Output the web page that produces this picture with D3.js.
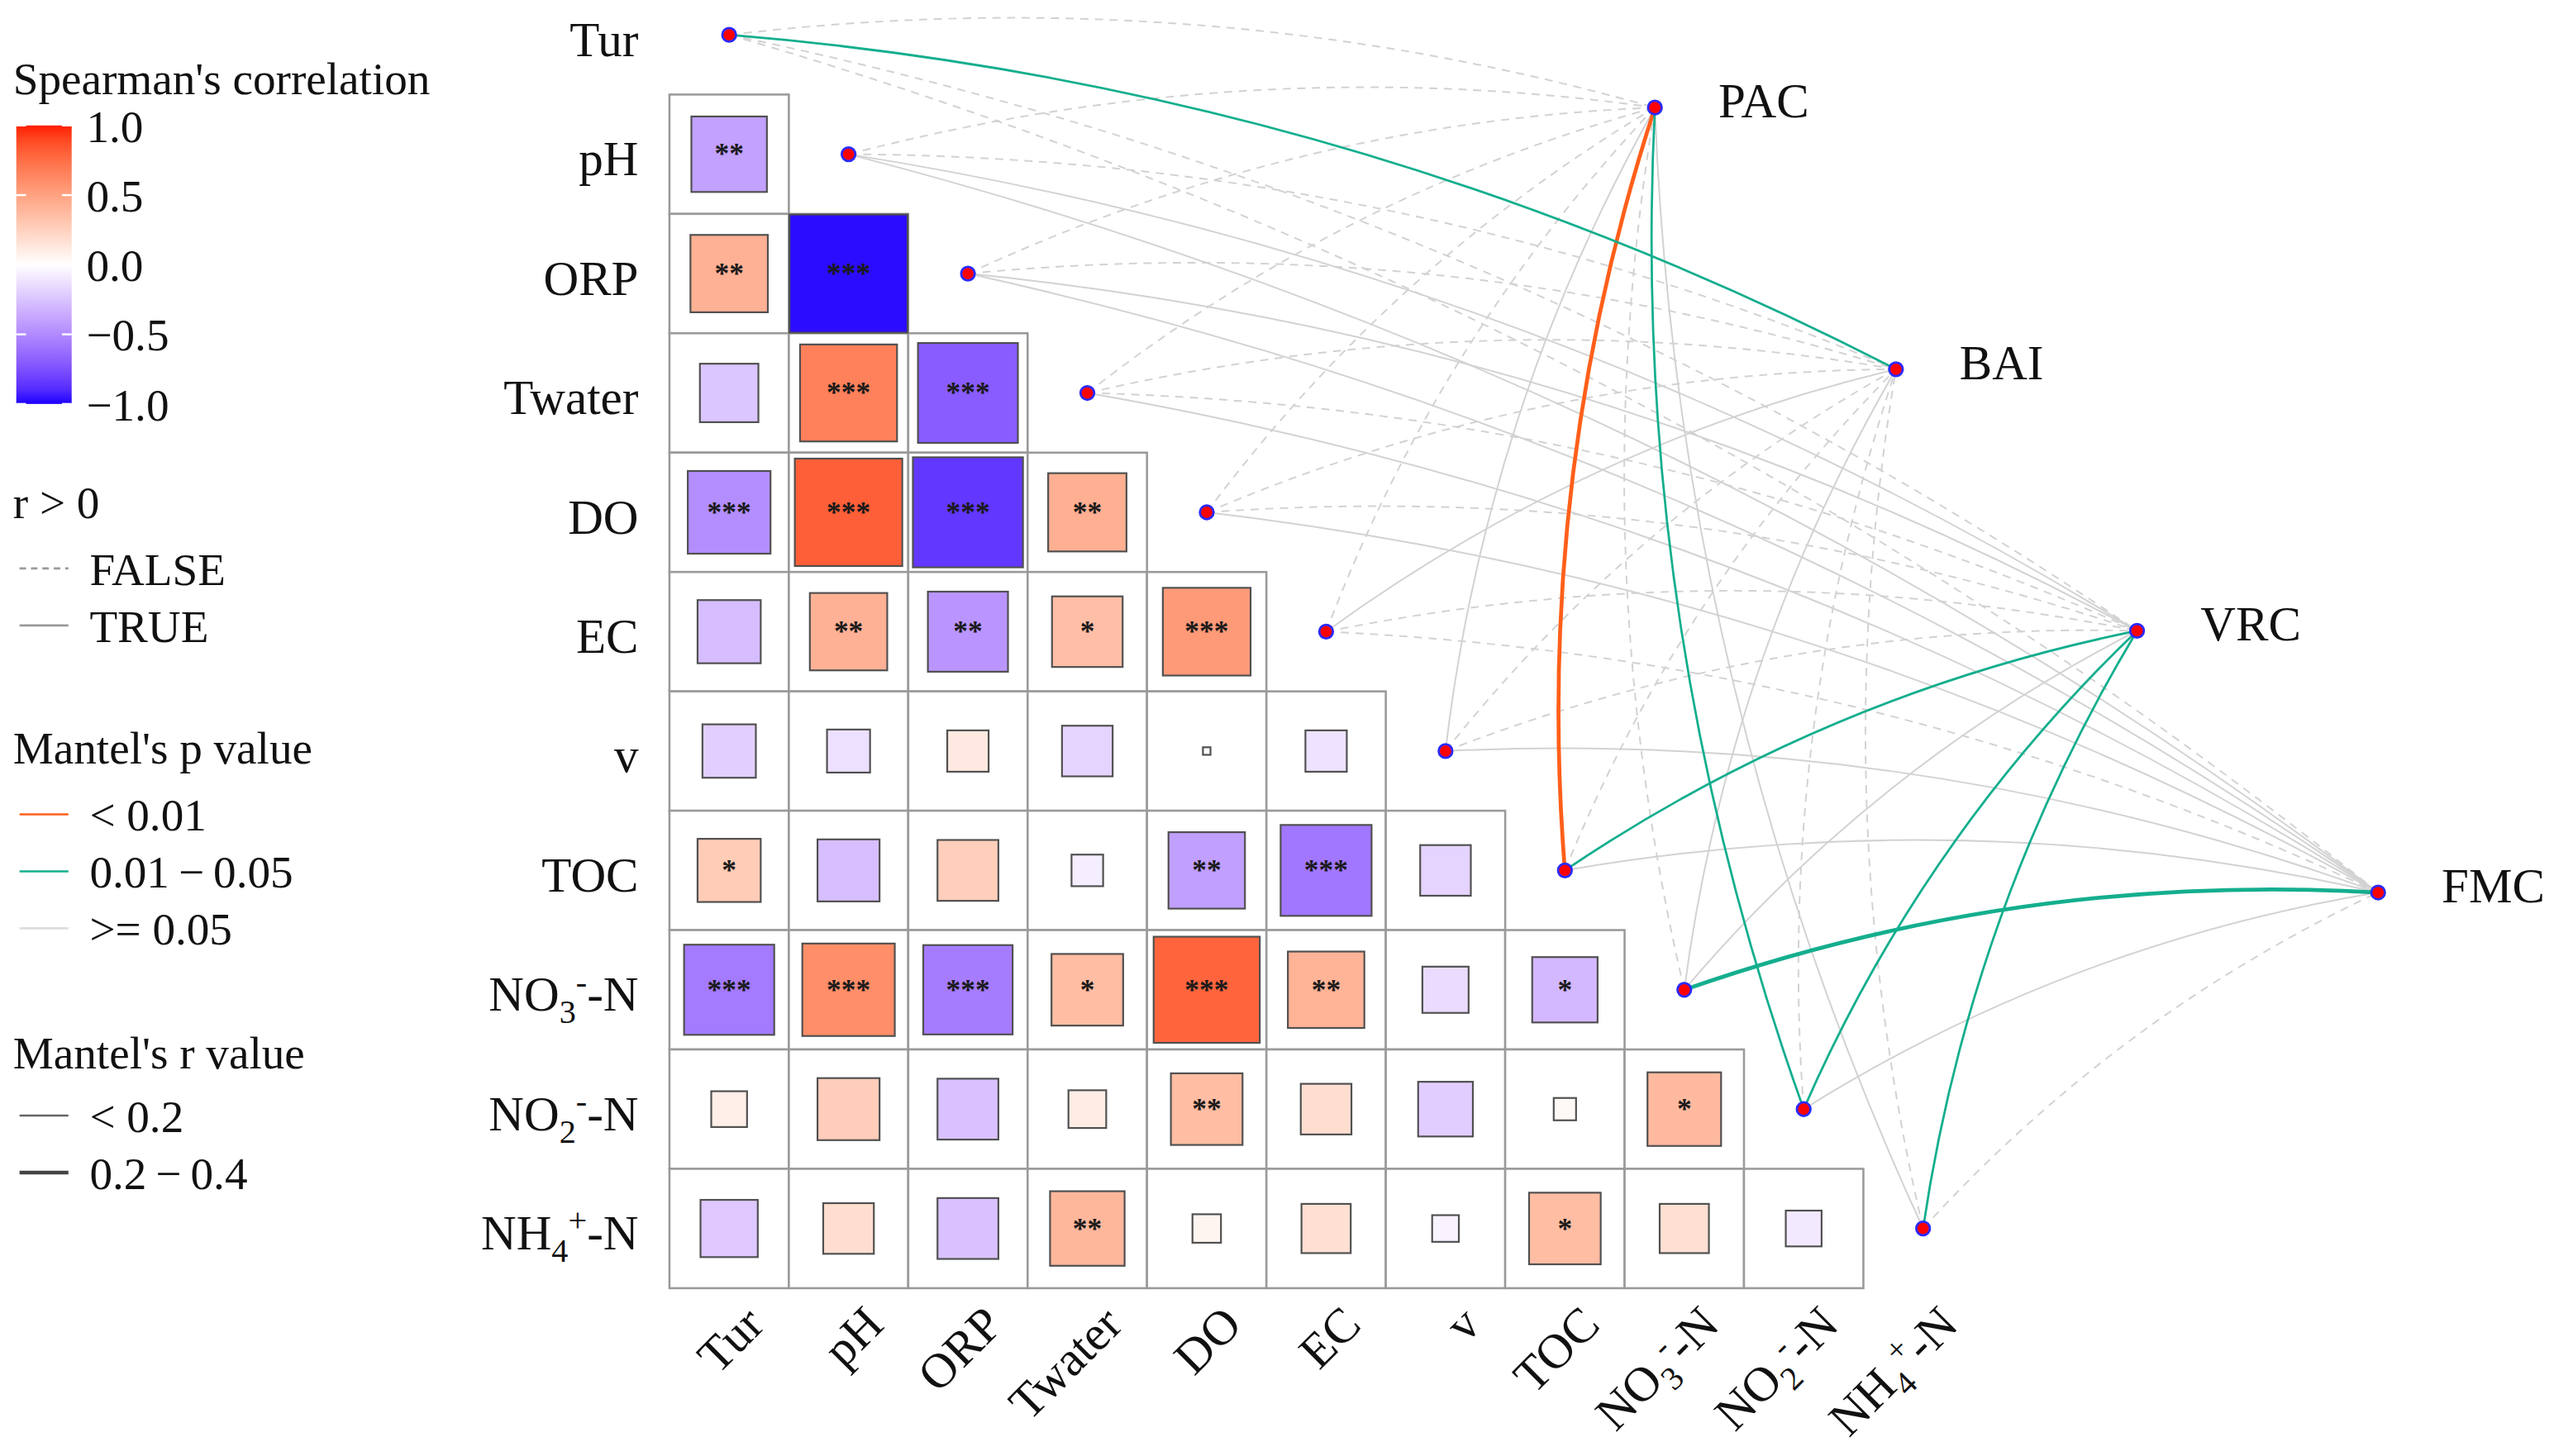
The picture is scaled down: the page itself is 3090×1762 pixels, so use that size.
<!DOCTYPE html>
<html>
<head>
<meta charset="utf-8">
<script src="https://cdn.jsdelivr.net/npm/d3@7"></script>
<style>
  body { margin: 0; background: #fff; }
  text { font-family: "Liberation Serif", "Times New Roman", serif; fill: #111; }
</style>
</head>
<body>
<div id="chart"></div>
<script>
// environmental variables (matrix rows / columns)
var envKeys = ["Tur", "pH", "ORP", "Twater", "DO", "EC", "v", "TOC", "NO3", "NO2", "NH4"];

// Spearman correlations, lower triangle (row i has i values: columns Tur..)
var corrRows = [
  [],
  [-0.40],
  [0.42, -0.98],
  [-0.24, 0.66, -0.70],
  [-0.48, 0.81, -0.85, 0.43],
  [-0.28, 0.42, -0.45, 0.35, 0.54],
  [-0.20, -0.13, 0.12, -0.18, 0.004, -0.12],
  [0.28, -0.27, 0.26, -0.07, -0.41, -0.58, -0.18],
  [-0.57, 0.60, -0.56, 0.36, 0.79, 0.41, -0.15, -0.30],
  [0.09, 0.27, -0.26, 0.10, 0.36, 0.18, -0.21, 0.035, 0.38],
  [-0.23, 0.18, -0.26, 0.39, 0.057, 0.17, -0.05, 0.36, 0.17, -0.09]
];

var starRows = [
  [],
  ["**"],
  ["**", "***"],
  ["", "***", "***"],
  ["***", "***", "***", "**"],
  ["", "**", "**", "*", "***"],
  ["", "", "", "", "", ""],
  ["*", "", "", "", "**", "***", ""],
  ["***", "***", "***", "*", "***", "**", "", "*"],
  ["", "", "", "", "**", "", "", "", "*"],
  ["", "", "", "**", "", "", "", "*", "", ""]
];

// Mantel test: one row per species group, one value per env variable
var specNames = ["PAC", "BAI", "VRC", "FMC"];
var mantelR = [
  [-0.05, -0.08, -0.06, -0.04, -0.07, -0.03, 0.05, 0.28, -0.02, 0.15, 0.06],
  [0.18, -0.05, -0.06, -0.04, -0.05, 0.06, -0.03, -0.02, 0.04, -0.05, -0.03],
  [-0.06, 0.07, 0.05, -0.03, -0.02, -0.04, -0.05, 0.17, 0.08, 0.16, 0.15],
  [-0.04, 0.09, 0.06, 0.05, 0.07, -0.03, 0.04, 0.08, 0.25, 0.06, -0.05]
];
var mantelP = [
  [0.60, 0.80, 0.70, 0.60, 0.80, 0.60, 0.30, 0.004, 0.50, 0.03, 0.25],
  [0.02, 0.70, 0.70, 0.60, 0.60, 0.30, 0.50, 0.50, 0.30, 0.60, 0.50],
  [0.70, 0.20, 0.25, 0.50, 0.50, 0.60, 0.60, 0.02, 0.15, 0.03, 0.04],
  [0.60, 0.12, 0.20, 0.30, 0.20, 0.50, 0.35, 0.15, 0.02, 0.25, 0.60]
];

var colorBreaks = [1.0, 0.5, 0.0, -0.5, -1.0];

// label pieces: [text, kind]
var envLabels = {
  Tur: [["Tur"]], pH: [["pH"]], ORP: [["ORP"]], Twater: [["Twater"]], DO: [["DO"]],
  EC: [["EC"]], v: [["v"]], TOC: [["TOC"]],
  NO3: [["NO"], ["3", "sub"], ["-", "sup"], ["-N"]],
  NO2: [["NO"], ["2", "sub"], ["-", "sup"], ["-N"]],
  NH4: [["NH"], ["4", "sub"], ["+", "sup"], ["-N"]]
};

var W = 1568, H = 894;
var svg = d3.select("#chart").append("svg")
  .attr("width", 3090)
  .attr("height", 1762)
  .attr("viewBox", "0 0 " + W + " " + H);

var cell = 73.3;
var gridLeft = 411, gridTop = 58;
var x = d3.scaleBand().domain(envKeys).range([gridLeft, gridLeft + 11 * cell]);
var y = d3.scaleBand().domain(envKeys).range([gridTop - cell, gridTop + 10 * cell]);
var color = d3.scaleLinear().domain([-1, 0, 1])
  .range(["#1c00ff", "#ffffff", "#ff1e00"])
  .interpolate(d3.interpolateLab);

var specX = d3.scalePoint().domain(specNames).range([1016, 1460]);
var specY = d3.scalePoint().domain(specNames).range([66, 548]);

function writeLabel(t, key, fs) {
  envLabels[key].forEach(function(p) {
    var ts = t.append("tspan").text(p[0]);
    if (p[1] === "sub") ts.attr("font-size", fs * 0.68).attr("dy", fs * 0.25);
    else if (p[1] === "sup") ts.attr("font-size", fs * 0.68).attr("dy", -fs * 0.62);
    else if (t.selectAll("tspan").size() > 1) ts.attr("dy", fs * 0.37);
  });
}

// ---- correlation cells ----
var cells = [];
corrRows.forEach(function(row, i) {
  row.forEach(function(r, j) {
    cells.push({ row: envKeys[i], col: envKeys[j], r: r, star: starRows[i][j] });
  });
});

var grid = svg.append("g");
grid.selectAll("rect.bg").data(cells).enter().append("rect")
  .attr("class", "bg")
  .attr("x", d => x(d.col))
  .attr("y", d => y(d.row))
  .attr("width", cell)
  .attr("height", cell)
  .attr("fill", "#fff")
  .attr("stroke", "#9a9a9a")
  .attr("stroke-width", 1.3);

grid.selectAll("rect.sq").data(cells).enter().append("rect")
  .attr("class", "sq")
  .attr("x", d => x(d.col) + cell / 2 - cell * Math.sqrt(Math.abs(d.r)) / 2)
  .attr("y", d => y(d.row) + cell / 2 - cell * Math.sqrt(Math.abs(d.r)) / 2)
  .attr("width", d => cell * Math.sqrt(Math.abs(d.r)))
  .attr("height", d => cell * Math.sqrt(Math.abs(d.r)))
  .attr("fill", d => color(d.r))
  .attr("stroke", "#505050")
  .attr("stroke-width", 1.1);

grid.selectAll("text.star").data(cells.filter(d => d.star)).enter().append("text")
  .attr("class", "star")
  .attr("x", d => x(d.col) + cell / 2)
  .attr("y", d => y(d.row) + cell / 2 + 6)
  .attr("text-anchor", "middle")
  .attr("font-size", 18)
  .attr("font-weight", "bold")
  .style("fill", "#1a1a1a")
  .text(d => d.star);

// ---- axis labels ----
var fsAxis = 30;
envKeys.forEach(function(k) {
  var t = svg.append("text")
    .attr("x", 392)
    .attr("y", y(k) + cell / 2 + 13)
    .attr("text-anchor", "end")
    .attr("font-size", fsAxis);
  writeLabel(t, k, fsAxis);

  var ax = x(k) + cell / 2 + 8, ay = 800;
  var tx = svg.append("text")
    .attr("transform", "translate(" + ax + "," + ay + ") rotate(-45)")
    .attr("x", 0)
    .attr("y", fsAxis * 0.7)
    .attr("text-anchor", "end")
    .attr("font-size", fsAxis);
  writeLabel(tx, k, fsAxis);
});

// ---- Mantel links ----
var links = [];
specNames.forEach(function(s, i) {
  envKeys.forEach(function(e, j) {
    links.push({ spec: s, env: e, r: mantelR[i][j], p: mantelP[i][j] });
  });
});
links.sort((a, b) => (a.p < 0.05) - (b.p < 0.05));

function linkPath(d) {
  var x1 = x(d.env) + cell / 2, y1 = y(d.env) + cell / 2;
  var x2 = specX(d.spec), y2 = specY(d.spec);
  var dx = x2 - x1, dy = y2 - y1;
  var k = 0.1;
  var cx = (x1 + x2) / 2 + dy * k, cy = (y1 + y2) / 2 - dx * k;
  return "M" + x1 + "," + y1 + " Q" + cx + "," + cy + " " + x2 + "," + y2;
}
function pColor(p) { return p < 0.01 ? "#ff5f1a" : p < 0.05 ? "#14ae8e" : "#d2d2d2"; }
function rWidth(d) { return d.p >= 0.05 ? 1.0 : (Math.abs(d.r) >= 0.2 ? 2.4 : 1.4); }

svg.append("g").selectAll("path").data(links).enter().append("path")
  .attr("d", linkPath)
  .attr("fill", "none")
  .attr("stroke", d => pColor(d.p))
  .attr("stroke-width", rWidth)
  .attr("stroke-dasharray", d => d.r > 0 ? null : "5,4");

// nodes
var nodes = svg.append("g");
nodes.selectAll("circle.env").data(envKeys).enter().append("circle")
  .attr("cx", d => x(d) + cell / 2)
  .attr("cy", d => y(d) + cell / 2)
  .attr("r", 4.2)
  .attr("fill", "#ff0000")
  .attr("stroke", "#2a2aff")
  .attr("stroke-width", 1.4);
nodes.selectAll("circle.spec").data(specNames).enter().append("circle")
  .attr("cx", d => specX(d))
  .attr("cy", d => specY(d))
  .attr("r", 4.2)
  .attr("fill", "#ff0000")
  .attr("stroke", "#2a2aff")
  .attr("stroke-width", 1.4);
nodes.selectAll("text.spec").data(specNames).enter().append("text")
  .attr("x", d => specX(d) + 39)
  .attr("y", d => specY(d) + 6)
  .attr("font-size", fsAxis)
  .text(d => d);

// ---- legend ----
var fsLeg = 28;
var leg = svg.append("g");
leg.append("text").attr("x", 8).attr("y", 58).attr("font-size", fsLeg).text("Spearman's correlation");

var barY = d3.scaleLinear().domain([1, -1]).range([77, 248]);
var grad = svg.append("defs").append("linearGradient")
  .attr("id", "cbar").attr("x1", 0).attr("y1", 0).attr("x2", 0).attr("y2", 1);
d3.range(0, 21).forEach(function(i) {
  var v = 1 - i / 10;
  grad.append("stop").attr("offset", (i / 20 * 100) + "%").attr("stop-color", color(v));
});
leg.append("rect")
  .attr("x", 10).attr("y", barY(1))
  .attr("width", 34).attr("height", barY(-1) - barY(1))
  .attr("fill", "url(#cbar)");
colorBreaks.forEach(function(b) {
  leg.append("line").attr("x1", 10).attr("x2", 16).attr("y1", barY(b)).attr("y2", barY(b))
    .attr("stroke", "#fff").attr("stroke-width", 1.2);
  leg.append("line").attr("x1", 38).attr("x2", 44).attr("y1", barY(b)).attr("y2", barY(b))
    .attr("stroke", "#fff").attr("stroke-width", 1.2);
  leg.append("text").attr("x", 53).attr("y", barY(b) + 10).attr("font-size", fsLeg)
    .text(d3.format(".1f")(b).replace("-", "\u2212"));
});

function legendLine(yy, stroke, width, dash, label) {
  leg.append("line").attr("x1", 12).attr("x2", 42).attr("y1", yy).attr("y2", yy)
    .attr("stroke", stroke).attr("stroke-width", width).attr("stroke-dasharray", dash);
  leg.append("text").attr("x", 55).attr("y", yy + 10).attr("font-size", fsLeg).text(label);
}

leg.append("text").attr("x", 8).attr("y", 318).attr("font-size", fsLeg).text("r > 0");
legendLine(349, "#9a9a9a", 1.3, "4,3", "FALSE");
legendLine(384, "#9a9a9a", 1.3, null, "TRUE");

leg.append("text").attr("x", 8).attr("y", 469).attr("font-size", fsLeg).text("Mantel's p value");
legendLine(500, "#ff5f1a", 1.3, null, "< 0.01");
legendLine(535, "#14ae8e", 1.3, null, "0.01\u2009\u2212\u20090.05");
legendLine(570, "#dedede", 1.3, null, ">= 0.05");

leg.append("text").attr("x", 8).attr("y", 656).attr("font-size", fsLeg).text("Mantel's r value");
legendLine(685, "#666", 1.2, null, "< 0.2");
legendLine(720, "#444", 2.2, null, "0.2\u2009\u2212\u20090.4");
</script>
</body>
</html>
